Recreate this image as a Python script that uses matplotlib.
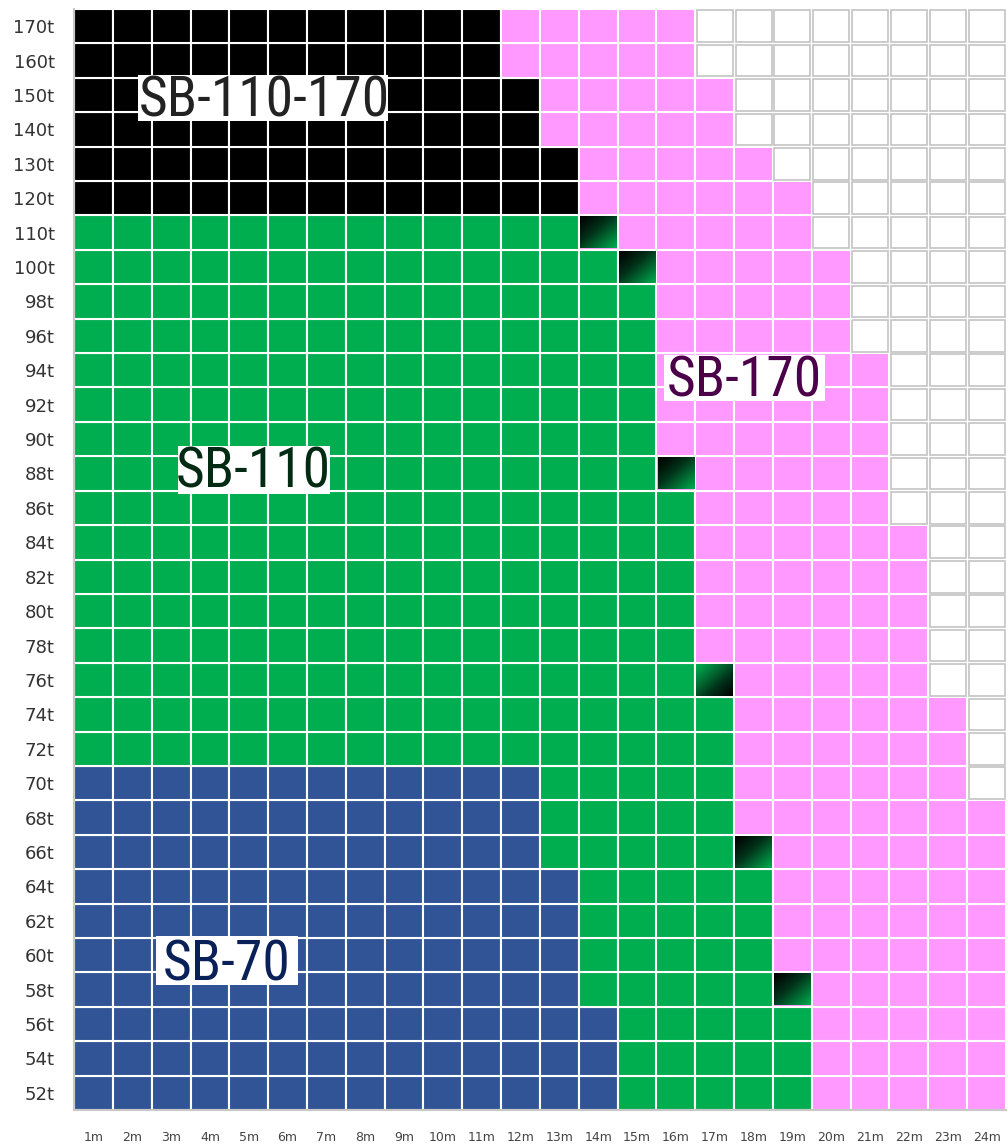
import numpy as np
import matplotlib
matplotlib.use("Agg")
import matplotlib.pyplot as plt
from matplotlib.patches import Rectangle
from matplotlib.colors import LinearSegmentedColormap

# ---------------- data ----------------
rows = ["52t", "54t", "56t", "58t", "60t", "62t", "64t", "66t", "68t", "70t",
        "72t", "74t", "76t", "78t", "80t", "82t", "84t", "86t", "88t", "90t",
        "92t", "94t", "96t", "98t", "100t", "110t", "120t", "130t", "140t",
        "150t", "160t", "170t"]
columns = ["1m", "2m", "3m", "4m", "5m", "6m", "7m", "8m", "9m", "10m", "11m",
           "12m", "13m", "14m", "15m", "16m", "17m", "18m", "19m", "20m", "21m",
           "22m", "23m", "24m"]

# last column (1-based) covered by each model, per row (0 = none)
sb70_end = [14, 14, 14, 13, 13, 13, 13, 12, 12, 12, 0, 0, 0, 0, 0, 0, 0, 0, 0,
            0, 0, 0, 0, 0, 0, 0, 0, 0, 0, 0, 0, 0]
sb110_end = [19, 19, 19, 18, 18, 18, 18, 17, 17, 17, 17, 17, 16, 16, 16, 16,
             16, 16, 15, 15, 15, 15, 15, 15, 14, 13, 0, 0, 0, 0, 0, 0]
sb110_170_end = [0, 0, 0, 0, 0, 0, 0, 0, 0, 0, 0, 0, 0, 0, 0, 0, 0, 0, 0, 0,
                 0, 0, 0, 0, 0, 0, 13, 13, 12, 12, 11, 11]
sb170_end = [24, 24, 24, 24, 24, 24, 24, 24, 24, 23, 23, 23, 22, 22, 22, 22,
             22, 21, 21, 21, 21, 21, 20, 20, 20, 19, 19, 18, 17, 17, 16, 16]
# transition cells
transition_rows = ["58t", "66t", "76t", "88t", "100t", "110t"]
transition_cols = [19, 18, 17, 16, 15, 14]
transition_reversed = [False, False, True, False, False, False]

labels = ["SB-110-170", "SB-170", "SB-110", "SB-70"]
label_colors = ["#222222", "#4B0049", "#032B14", "#0A2058"]

# ---------------- style ----------------
C_BLACK = "#000000"
C_GREEN = "#00AD4F"
C_BLUE = "#315496"
C_PINK = "#FF99FF"

W, H = 1008, 1144
fig = plt.figure(figsize=(W / 100, H / 100), dpi=100)
ax = fig.add_axes([74 / W, 1 - 1110 / H, (1006 - 74) / W, (1110 - 9) / H])
ax.set_xlim(0, len(columns))
ax.set_ylim(0, len(rows))

gradient_cmap = LinearSegmentedColormap.from_list(
    "g", [(0, "#000000"), (0.4, "#02331A"), (1.0, C_GREEN)])
n = 40
gi, gj = np.mgrid[0:n, 0:n]
grad = ((gi + gj) / (2 * (n - 1))) ** 1.1

for r, lab in enumerate(rows):
    for c in range(1, len(columns) + 1):
        if c <= sb110_170_end[r]:
            col = C_BLACK
        elif c <= sb70_end[r]:
            col = C_BLUE
        elif c <= sb110_end[r]:
            col = C_GREEN
        elif c <= sb170_end[r]:
            col = C_PINK
        else:
            col = None
        if col is None:
            ax.add_patch(Rectangle((c - 1 + 0.035, r + 0.04), 0.93, 0.92,
                                   facecolor="white", edgecolor="#C4C4C4",
                                   lw=1.2, zorder=2))
        else:
            ax.add_patch(Rectangle((c - 1, r), 1, 1, facecolor=col,
                                   edgecolor="white", lw=1.5, zorder=2))

# transition cells with gradient
for lab, c, rev in zip(transition_rows, transition_cols, transition_reversed):
    r = rows.index(lab)
    g = (1 - grad) if rev else grad
    ax.imshow(g, cmap=gradient_cmap, vmin=0, vmax=1, origin="upper",
              extent=(c - 1 + 0.03, c - 0.03, r + 0.04, r + 1 - 0.04),
              aspect="auto", zorder=3, interpolation="bilinear")

ax.set_xlim(0, len(columns))
ax.set_ylim(0, len(rows))

# axes
ax.set_xticks(np.arange(len(columns)) + 0.5)
ax.set_xticklabels(columns, fontsize=9, color="#444444")
ax.set_yticks(np.arange(len(rows)) + 0.5)
ax.set_yticklabels(rows, fontsize=13, color="#333333")
ax.tick_params(axis="x", length=0, pad=15)
ax.tick_params(axis="y", length=0, pad=14)
for s in ["top", "right"]:
    ax.spines[s].set_visible(False)
for s in ["left", "bottom"]:
    ax.spines[s].set_color("#C8C8C8")
    ax.spines[s].set_linewidth(1.5)

# labels: white boxes (x0, x1, y0, y1) and text anchor (x, baseline y)
font_cond = ["Roboto Condensed", "Oswald", "Roboto", "DejaVu Sans"]
label_boxes = [(1.648, 8.086, 28.745, 30.082),
               (15.193, 19.339, 20.607, 21.944),
               (2.678, 6.592, 17.904, 19.299),
               (2.112, 5.768, 3.633, 5.057)]
label_anchor = [(4.893, 28.89), (17.266, 20.725), (4.622, 18.08),
                (3.940, 3.75)]
for txt, colr, (x0, x1, y0, y1), (x, y) in zip(labels, label_colors,
                                               label_boxes, label_anchor):
    ax.add_patch(Rectangle((x0, y0), x1 - x0, y1 - y0, facecolor="white",
                           edgecolor="none", zorder=4))
    ax.text(x, y, txt, ha="center", va="baseline", fontsize=40,
            family=font_cond, color=colr, zorder=5)

fig.savefig("out.png", dpi=100)
